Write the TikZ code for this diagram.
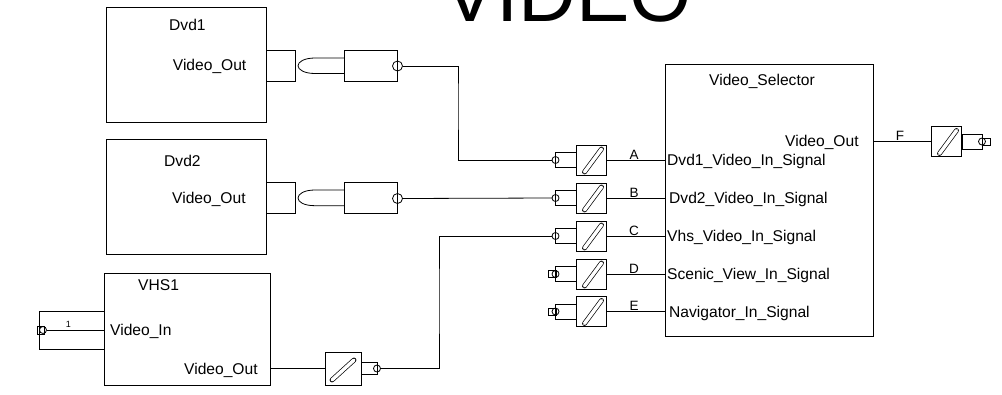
\documentclass[tikz,border=0pt]{standalone}
\usepackage{fontspec}
\setmainfont{Liberation Sans}
\newcommand\bx[5]{\node[blockbox, minimum width={((#4)-(#2))*1pt}, minimum height={((#5)-(#3))*1pt}] (#1) at ({((#2)+(#4))/2},{((#3)+(#5))/2}) {};}
\newcommand\lbl[4]{\node[lbltext] (#1) at (#2,#3) {#4};}
% slanted capsule: left x of box, centre y
\newcommand\capsule[2]{%
  \draw[capout] ({#1+8.5},{#2+12}) -- ({#1+25.5},{#2-11});
  \draw[capin] ({#1+8.5},{#2+12}) -- ({#1+25.5},{#2-11});}
% switch block: name, left x, centre y
\newcommand\sw[3]{%
  \bx{#1}{#2}{#3-15}{#2+30.5}{#3+15}
  \capsule{#2}{#3}}
\newcommand\plugL[4]{% name, circle x, centre y, box right x
  \bx{#1}{#2}{#3-7.5}{#4}{#3+7.5}
  \node[portcircle] (#1c) at (#2,#3) {};}
\tikzset{
  blockbox/.style={draw=black, line width=0.8pt, rectangle, inner sep=0pt, outer sep=0pt},
  wire/.style={draw=black, line width=0.8pt},
  capout/.style={draw=black, line width=4.8pt, line cap=round},
  capin/.style={draw=white, line width=3.4pt, line cap=round},
  portcircle/.style={draw=black, circle, line width=0.8pt, minimum size=7pt, inner sep=0pt, outer sep=0pt},
  bigcircle/.style={draw=black, circle, line width=0.8pt, minimum size=10pt, inner sep=0pt, outer sep=0pt},
  portsquare/.style={draw=black, rectangle, line width=0.8pt, minimum width=8pt, minimum height=7pt, inner sep=0pt, outer sep=0pt},
  lbltext/.style={anchor=base west, inner sep=0pt, font=\fontsize{15.6}{18}\selectfont},
  wirelbl/.style={anchor=base, inner sep=0pt, font=\fontsize{13.5}{15}\selectfont},
}
\begin{document}
\begin{tikzpicture}[x=1pt,y=-1pt]
\clip (0,0) rectangle (1002,394);
\node[anchor=base west, inner sep=0pt, font=\fontsize{80}{90}\selectfont] (title) at (443,21) {VIDEO};

% Dvd1
\bx{dvdA}{106}{7}{266.5}{122}
\lbl{dvdAn}{169}{30}{Dvd1}
\lbl{dvdAo}{172.7}{70.5}{Video\_Out}
\bx{dvdAp}{266.5}{50.7}{295}{81}
\bx{plugA}{344}{50.7}{397.5}{81}
\node[bigcircle] (plugAc) at (397.5,66) {};
\coordinate (bAt) at (344,58); \coordinate (bAb) at (344,73.5);
\draw[wire] (bAt) -- (315,58) .. controls (304,58) and (298,62) .. (298,65.7) .. controls (298,69.5) and (304,73.5) .. (315,73.5) -- (bAb);

% Dvd2
\bx{dvdB}{106}{139.5}{266.5}{254}
\lbl{dvdBn}{164}{166}{Dvd2}
\lbl{dvdBo}{172}{203}{Video\_Out}
\bx{dvdBp}{266.5}{182.7}{295}{213.3}
\bx{plugB}{344}{182.7}{397.5}{213.3}
\node[bigcircle] (plugBc) at (397.5,198.5) {};
\coordinate (bBt) at (344,190); \coordinate (bBb) at (344,205.7);
\draw[wire] (bBt) -- (315,190) .. controls (304,190) and (298,194) .. (298,198) .. controls (298,202) and (304,205.7) .. (315,205.7) -- (bBb);

% VHS1
\bx{vhs}{104}{273}{270}{385}
\lbl{vhsn}{138}{290}{VHS1}
\lbl{vhsi}{110}{335}{Video\_In}
\lbl{vhso}{184}{374}{Video\_Out}
\bx{vhsin}{39.5}{311}{104}{349}
\node[portsquare, minimum width=7pt, minimum height=8pt] (vhsins) at (40.5,330) {};
\node[portcircle] (vhsinc) at (43,330) {};
\coordinate (vhsinr) at (vhsin.east);
\draw[wire] (vhsinc.east) -- (vhsinr);
\node[wirelbl, font=\fontsize{9}{10}\selectfont] (one) at (68.5,327) {1};

% VHS1 out switch
\bx{swV}{325}{352.7}{361.3}{385}
\draw[capout] (332,380) -- (354,360);
\draw[capin] (332,380) -- (354,360);
\bx{swVp}{361.3}{362}{377}{374.5}
\node[portcircle] (swVc) at (377,368.5) {};

% Selector
\bx{sel}{665.5}{64}{873}{336}
\lbl{seln}{709}{85}{Video\_Selector}
\lbl{selo}{785}{146}{Video\_Out}
\lbl{selA}{667}{165}{Dvd1\_Video\_In\_Signal}
\lbl{selB}{669}{203}{Dvd2\_Video\_In\_Signal}
\lbl{selC}{667}{241}{Vhs\_Video\_In\_Signal}
\lbl{selD}{667}{279}{Scenic\_View\_In\_Signal}
\lbl{selE}{669}{317}{Navigator\_In\_Signal}

% input switches
\node[portsquare] (pDs) at (552,274) {};
\node[portsquare] (pEs) at (552,311.5) {};
\plugL{pA}{555.5}{160}{576}
\plugL{pB}{555.5}{198}{576}
\plugL{pC}{555.5}{236}{576}
\plugL{pD}{555.5}{274}{576}
\plugL{pE}{555.5}{311.5}{576}
\sw{swA}{576}{160}
\sw{swB}{576}{198}
\sw{swC}{576}{236}
\sw{swD}{576}{274}
\sw{swE}{576}{311.5}

% wires into the selector
\foreach \n in {A,B,C,D,E} {\draw[wire] (sw\n.east) -- (sel.west |- sw\n.east);}
\node[wirelbl] (lA) at (634,159) {A};
\node[wirelbl] (lB) at (634,197) {B};
\node[wirelbl] (lC) at (634,235) {C};
\node[wirelbl] (lD) at (634,273) {D};
\node[wirelbl] (lE) at (634,310.5) {E};

% output switch
\sw{swF}{931}{141.5}
\bx{pF}{962}{134}{982}{149}
\node[portsquare] (pFs) at (986,141.5) {};
\node[portcircle] (pFc) at (982,141.5) {};
\draw[wire] (sel.east |- swF.west) -- (swF.west);
\node[wirelbl] (lF) at (900,140.5) {F};

% long connectors
\coordinate (jA) at (458,100);
\draw[wire] (plugAc.east) -| (jA) |- (pAc.west);
\draw[wire] (plugBc.east) -- (pBc.west);
\coordinate (jC) at (439,300);
\draw[wire] (swVc.east) -| (jC) |- (pCc.west);
\draw[wire] (vhs.east |- swV.west) -- (swV.west);
\end{tikzpicture}
\end{document}
